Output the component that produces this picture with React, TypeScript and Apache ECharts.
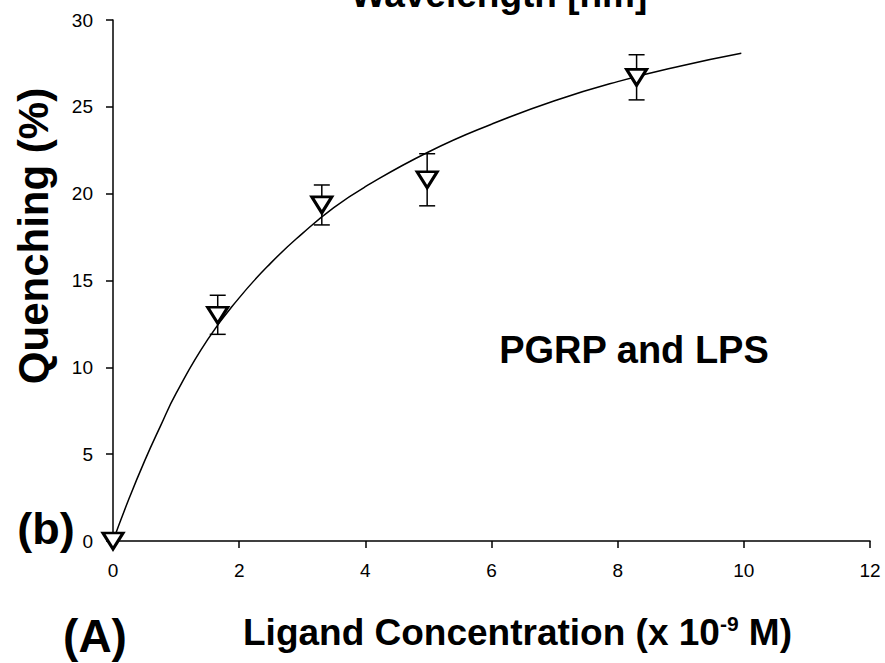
import React, { useEffect, useRef } from "react";
import * as echarts from "echarts";

// Fitted curve
const curveX = [0, 0.25, 0.5, 0.75, 1, 1.5, 2, 2.5, 3, 3.5, 4, 5, 6, 7, 8, 9, 9.96];
const curveY = [0, 2.4, 4.6, 6.6, 8.5, 11.6, 14.0, 16.0, 17.7, 19.2, 20.4, 22.4, 24.0, 25.35, 26.45, 27.35, 28.08];

// Measured points with error bars
const pointX = [0, 1.66, 3.31, 4.98, 8.3];
const pointY = [0, 13.0, 19.35, 20.8, 26.7];
const errLow = [0, 11.9, 18.2, 19.3, 25.4];
const errHigh = [0, 14.15, 20.5, 22.3, 28.0];

const xTicks = { min: 0, max: 12, interval: 2 };
const yTicks = { min: 0, max: 30, interval: 5 };

const FONT = "'Liberation Sans', Arial, Helvetica, sans-serif";

export default function App() {
  const ref = useRef<HTMLDivElement>(null);

  useEffect(() => {
    if (!ref.current) return;
    const chart = echarts.init(ref.current, null, { renderer: "svg" });

    const axisCommon = {
      axisLine: { show: true, lineStyle: { color: "#000", width: 1.5 } },
      axisTick: { show: true, inside: false, length: 7, lineStyle: { color: "#000", width: 1.5 } },
      splitLine: { show: false },
      axisLabel: { color: "#000", fontSize: 19, fontFamily: FONT },
    };

    chart.setOption({
      animation: false,
      backgroundColor: "#fff",
      grid: { left: 113, right: 15, top: 20, bottom: 122, containLabel: false },
      xAxis: {
        type: "value",
        ...xTicks,
        ...axisCommon,
        axisLabel: { ...axisCommon.axisLabel, margin: 20 },
      },
      yAxis: {
        type: "value",
        ...yTicks,
        ...axisCommon,
        axisLabel: { ...axisCommon.axisLabel, margin: 20 },
      },
      series: [
        {
          type: "line",
          data: curveX.map((x, i) => [x, curveY[i]]),
          smooth: true,
          showSymbol: false,
          symbol: "none",
          lineStyle: { color: "#000", width: 1.5 },
          z: 2,
        },
        {
          type: "custom",
          data: pointX.map((x, i) => [x, errLow[i], errHigh[i]]),
          renderItem: (params: any, api: any) => {
            const x = api.value(0);
            const lo = api.value(1);
            const hi = api.value(2);
            if (hi === lo) return { type: "group", children: [] };
            const pLo = api.coord([x, lo]);
            const pHi = api.coord([x, hi]);
            const half = 8;
            const style = { stroke: "#000", lineWidth: 1.5 };
            return {
              type: "group",
              children: [
                { type: "line", shape: { x1: pLo[0], y1: pLo[1], x2: pHi[0], y2: pHi[1] }, style },
                { type: "line", shape: { x1: pHi[0] - half, y1: pHi[1], x2: pHi[0] + half, y2: pHi[1] }, style },
                { type: "line", shape: { x1: pLo[0] - half, y1: pLo[1], x2: pLo[0] + half, y2: pLo[1] }, style },
              ],
            };
          },
          z: 3,
        },
        {
          type: "scatter",
          data: pointX.map((x, i) => [x, pointY[i]]),
          symbol: "triangle",
          symbolRotate: 180,
          symbolSize: [20, 16],
          itemStyle: { color: "#fff", borderColor: "#000", borderWidth: 3, opacity: 1 },
          clip: false,
          z: 4,
        },
      ],
      graphic: [
        {
          type: "text",
          x: 499,
          y: -5.5,
          style: { text: "Wavelength [nm]", align: "center", verticalAlign: "middle", fontSize: 37, fontWeight: "bold", fontFamily: FONT, fill: "#000" },
        },
        {
          type: "text",
          x: 634,
          y: 350,
          style: { text: "PGRP and LPS", align: "center", verticalAlign: "middle", fontSize: 38, fontWeight: "bold", fontFamily: FONT, fill: "#000" },
        },
        {
          type: "text",
          x: 243,
          y: 632,
          style: {
            text: "{a|Ligand Concentration (x 10}{s|-9}{a| M)}",
            align: "left",
            verticalAlign: "middle",
            fill: "#000",
            rich: {
              a: { fontSize: 37, fontWeight: "bold", fontFamily: FONT, fill: "#000" },
              s: { fontSize: 21, fontWeight: "bold", fontFamily: FONT, fill: "#000", padding: [0, 0, 18, 0] },
            },
          },
        },
        {
          type: "text",
          x: 33,
          y: 236,
          rotation: Math.PI / 2,
          style: { text: "Quenching (%)", align: "center", verticalAlign: "middle", fontSize: 42, fontWeight: "bold", fontFamily: FONT, fill: "#000" },
        },
        {
          type: "text",
          x: 46,
          y: 528,
          style: { text: "(b)", align: "center", verticalAlign: "middle", fontSize: 45, fontWeight: "bold", fontFamily: FONT, fill: "#000" },
        },
        {
          type: "text",
          x: 95,
          y: 636,
          style: { text: "(A)", align: "center", verticalAlign: "middle", fontSize: 46, fontWeight: "bold", fontFamily: FONT, fill: "#000" },
        },
      ],
    });

    return () => chart.dispose();
  }, []);

  return (
    <div
      ref={ref}
      style={{ position: "absolute", left: 0, top: 0, width: 885, height: 663, background: "#fff" }}
    />
  );
}
